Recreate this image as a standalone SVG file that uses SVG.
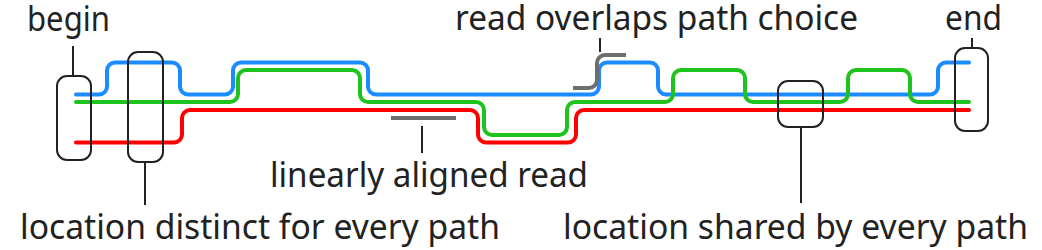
<svg xmlns="http://www.w3.org/2000/svg" width="1042" height="250" viewBox="0 0 1042 250">
<style>
.lbl{font-family:"Noto Sans","Open Sans",sans-serif;font-size:35px;fill:#222}
.top{font-size:34px}
.path{fill:none;stroke-width:4;stroke-linecap:round;stroke-linejoin:round}
.box{fill:none;stroke:#222;stroke-width:2}
.lead{stroke:#222;stroke-width:2;fill:none}
.read{fill:none;stroke:#6e6e6e;stroke-width:4}
</style>
<rect width="1042" height="250" fill="#fff"/>
<g id="paths">
<path id="path-blue" class="path" stroke="#1a8cff" d="M76,94.5 H99 A8,8 0 0 0 107,86.5 V70.5 A8,8 0 0 1 115,62.5 H172 A8,8 0 0 1 180,70.5 V86.5 A8,8 0 0 0 188,94.5 H225 A8,8 0 0 0 233,86.5 V70.5 A8,8 0 0 1 241,62.5 H360 A8,8 0 0 1 368,70.5 V86.5 A8,8 0 0 0 376,94.5 H591 A8,8 0 0 0 599,86.5 V70.5 A8,8 0 0 1 607,62.5 H650 A8,8 0 0 1 658,70.5 V86.5 A8,8 0 0 0 666,94.5 H930 A8,8 0 0 0 938,86.5 V70.5 A8,8 0 0 1 946,62.5 H969"/>
<path id="path-green" class="path" stroke="#1ec31e" d="M76,102 H230 A8,8 0 0 0 238,94 V78 A8,8 0 0 1 246,70 H352 A8,8 0 0 1 360,78 V94 A8,8 0 0 0 368,102 H476 A8,8 0 0 1 484,110 V127 A8,8 0 0 0 492,135 H559 A8,8 0 0 0 567,127 V110 A8,8 0 0 1 575,102 H665 A8,8 0 0 0 673,94 V78 A8,8 0 0 1 681,70 H737 A8,8 0 0 1 745,78 V94 A8,8 0 0 0 753,102 H840 A8,8 0 0 0 848,94 V78 A8,8 0 0 1 856,70 H902 A8,8 0 0 1 910,78 V94 A8,8 0 0 0 918,102 H969"/>
<path id="path-red" class="path" stroke="#ff0000" d="M76,142.5 H174 A8,8 0 0 0 182,134.5 V118 A8,8 0 0 1 190,110 H470 A8,8 0 0 1 478,118 V134.5 A8,8 0 0 0 486,142.5 H568 A8,8 0 0 0 576,134.5 V118 A8,8 0 0 1 584,110 H969"/>
</g>
<g id="reads">
<path id="read-linear" class="read" d="M391,118 H456"/>
<path id="read-overlap" class="read" d="M573,88 H589 A8,8 0 0 0 597,80 V63 A8,8 0 0 1 605,55 H626"/>
</g>
<g id="boxes">
<g id="begin-box"><rect class="box" x="57" y="76" width="34" height="84" rx="10"/></g>
<g id="distinct-box"><rect class="box" x="128" y="52" width="35" height="110" rx="10"/></g>
<g id="shared-box"><rect class="box" x="778" y="81" width="45" height="46" rx="10"/></g>
<g id="end-box"><rect class="box" x="955" y="48" width="33" height="83" rx="10"/></g>
</g>
<g id="connectors">
<line class="lead" x1="73" y1="46" x2="73" y2="76"/>
<line class="lead" x1="145" y1="162" x2="145" y2="205"/>
<line class="lead" x1="801" y1="127" x2="801" y2="203"/>
<line class="lead" x1="972" y1="38" x2="972" y2="48"/>
<line class="lead" x1="422" y1="126" x2="422" y2="153"/>
<line class="lead" x1="600" y1="38" x2="600" y2="52"/>
</g>
<g id="labels">
<g id="label-begin"><text class="lbl top" x="27" y="31" textLength="83" lengthAdjust="spacingAndGlyphs">begin</text></g>
<g id="label-overlap"><text class="lbl top" x="455" y="30" textLength="403" lengthAdjust="spacingAndGlyphs">read overlaps path choice</text></g>
<g id="label-end"><text class="lbl top" x="945" y="30" textLength="57" lengthAdjust="spacingAndGlyphs">end</text></g>
<g id="label-linear"><text class="lbl" x="270" y="187" textLength="318" lengthAdjust="spacingAndGlyphs">linearly aligned read</text></g>
<g id="label-distinct"><text class="lbl" x="20" y="239" textLength="480" lengthAdjust="spacingAndGlyphs">location distinct for every path</text></g>
<g id="label-shared"><text class="lbl" x="563" y="239" textLength="465" lengthAdjust="spacingAndGlyphs">location shared by every path</text></g>
</g>
</svg>
